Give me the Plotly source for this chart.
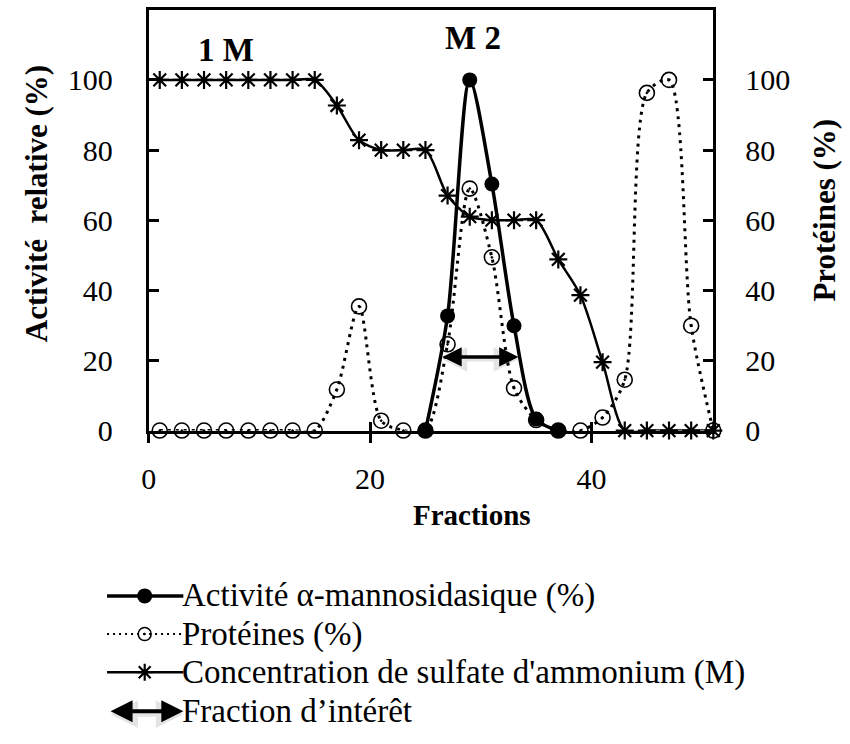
import plotly.graph_objects as go

# ---- data -------------------------------------------------------------
fractions = [1, 3, 5, 7, 9, 11, 13, 15, 17, 19, 21, 23, 25,
             27, 29, 31, 33, 35, 37, 39, 41, 43, 45, 47, 49, 51]

# ammonium sulfate concentration, relative (%)
sulfate = [100, 100, 100, 100, 100, 100, 100, 100, 92.7, 82.8, 80, 80, 80,
           67, 61, 60, 60, 60, 48.8, 38.6, 19.5, 0, 0, 0, 0, 0]

# proteins (%)
proteins = [0, 0, 0, 0, 0, 0, 0, 0, 11.7, 35.4, 2.8, 0, 0,
            24.6, 69, 49.4, 12.1, 3, 0, 0, 3.7, 14.5, 96.3, 100, 29.9, 0]

# alpha-mannosidase activity (%)
activity_fractions = [25, 27, 29, 31, 33, 35, 37]
activity = [0, 32.7, 100, 70.3, 29.9, 3.3, 0]

# pooled fractions of interest and the level of the marker arrow
interest_range = [26.4, 33.4]
interest_level = 21

y_ticks = [0, 20, 40, 60, 80, 100]
x_ticks = [0, 20, 40]

legend_labels = [
    "Activité \u03b1-mannosidasique (%)",
    "Protéines (%)",
    "Concentration de sulfate d'ammonium (M)",
    "Fraction d\u2019intérêt",
]

# ---- layout geometry (pixels of an 850 x 744 page) -------------------
W, H = 850, 744
PL, PR, PT, PB = 142, 712, 10, 440
FONT = "Liberation Serif"
BLACK = "black"
CLEAR = "rgba(0,0,0,0)"
SHADOW = "rgba(0,0,0,0.10)"


def fx(px):
    return px / W


def fy(py):
    return 1 - py / H


fig = go.Figure()

# sulfate concentration
fig.add_trace(go.Scatter(
    x=fractions, y=sulfate, mode="lines+markers",
    line=dict(color=BLACK, width=2.5, shape="spline", smoothing=0.8),
    marker=dict(symbol="asterisk-open", size=15, color=BLACK,
                line=dict(color=BLACK, width=2.2)),
    cliponaxis=False, showlegend=False,
))

# proteins on the right axis
fig.add_trace(go.Scatter(
    x=fractions, y=proteins, mode="lines+markers", yaxis="y2",
    line=dict(color=BLACK, width=3, dash="3px,5px", shape="spline", smoothing=0.8),
    marker=dict(symbol="circle-open-dot", size=15, color=BLACK,
                line=dict(color=BLACK, width=1.6)),
    cliponaxis=False, showlegend=False,
))

# enzyme activity
fig.add_trace(go.Scatter(
    x=activity_fractions, y=activity, mode="lines+markers",
    line=dict(color=BLACK, width=3.5, shape="spline", smoothing=0.8),
    marker=dict(symbol="circle", size=15, color=BLACK),
    cliponaxis=False, showlegend=False,
))

# inner half of the crossing x ticks
fig.add_trace(go.Scatter(x=[], y=[], xaxis="x2", yaxis="y", showlegend=False))

# ---- hand-built legend drawn on a page-sized helper axis -------------
leg_rows = [609, 648, 687, 727]
leg_x0, leg_x1, leg_mid, leg_text = 100, 177, 138, 174

fig.add_trace(go.Scatter(
    x=[leg_x0, leg_x1], y=[leg_rows[0]] * 2, mode="lines", xaxis="x4", yaxis="y4",
    line=dict(color=BLACK, width=3.5), showlegend=False, hoverinfo="skip"))
fig.add_trace(go.Scatter(
    x=[leg_mid], y=[leg_rows[0]], mode="markers", xaxis="x4", yaxis="y4",
    marker=dict(symbol="circle", size=15, color=BLACK), showlegend=False, hoverinfo="skip"))
fig.add_trace(go.Scatter(
    x=[leg_x0, leg_x1], y=[leg_rows[1]] * 2, mode="lines", xaxis="x4", yaxis="y4",
    line=dict(color=BLACK, width=2, dash="2px,4px"), showlegend=False, hoverinfo="skip"))
fig.add_trace(go.Scatter(
    x=[leg_mid], y=[leg_rows[1]], mode="markers", xaxis="x4", yaxis="y4",
    marker=dict(symbol="circle-open-dot", size=13, color=BLACK,
                line=dict(color=BLACK, width=1.5)),
    showlegend=False, hoverinfo="skip"))
fig.add_trace(go.Scatter(
    x=[leg_x0, leg_x1], y=[leg_rows[2]] * 2, mode="lines", xaxis="x4", yaxis="y4",
    line=dict(color=BLACK, width=2.5), showlegend=False, hoverinfo="skip"))
fig.add_trace(go.Scatter(
    x=[leg_mid], y=[leg_rows[2]], mode="markers", xaxis="x4", yaxis="y4",
    marker=dict(symbol="asterisk-open", size=14, color=BLACK,
                line=dict(color=BLACK, width=2.2)),
    showlegend=False, hoverinfo="skip"))

annotations = []
for row, label in zip(leg_rows, legend_labels):
    annotations.append(dict(
        x=leg_text, y=row, xref="x4", yref="y4", text=label, showarrow=False,
        xanchor="left", yanchor="middle", font=dict(family=FONT, size=33, color=BLACK)))

# legend arrow (faint shadow first, then the arrow)
for dy, col, w in [(3, SHADOW, 5), (0, BLACK, 4)]:
    annotations.append(dict(
        x=leg_x1, y=leg_rows[3] + dy, ax=leg_x0 + 2, ay=leg_rows[3] + dy,
        xref="x4", yref="y4", axref="x4", ayref="y4", text="",
        showarrow=True, arrowside="end+start", arrowhead=2, arrowsize=1.1,
        arrowwidth=w, arrowcolor=col))

# arrow marking the pooled fractions
for dy, col, w in [(-0.7, SHADOW, 4.5), (0, BLACK, 3.5)]:
    annotations.append(dict(
        x=interest_range[1], y=interest_level + dy,
        ax=interest_range[0], ay=interest_level + dy,
        xref="x", yref="y", axref="x", ayref="y", text="",
        showarrow=True, arrowside="end+start", arrowhead=2, arrowsize=1.1,
        arrowwidth=w, arrowcolor=col))

# step labels
annotations.append(dict(x=7.0, y=108.6, xref="x", yref="y", text="<b>1 M</b>",
                        xanchor="center", yanchor="middle",
                        showarrow=False, font=dict(family=FONT, size=33, color=BLACK)))
annotations.append(dict(x=29.3, y=111.9, xref="x", yref="y", text="<b>M 2</b>",
                        xanchor="center", yanchor="middle",
                        showarrow=False, font=dict(family=FONT, size=33, color=BLACK)))

# axis titles
annotations.append(dict(x=fx(29), y=fy(208), xref="paper", yref="paper",
                        xanchor="center", yanchor="middle",
                        text="<b>Activité\u00a0 relative (%)</b>", textangle=-90,
                        showarrow=False, font=dict(family=FONT, size=31, color=BLACK)))
annotations.append(dict(x=fx(824), y=fy(215), xref="paper", yref="paper",
                        xanchor="center", yanchor="middle",
                        text="<b>Protéines (%)</b>", textangle=-90,
                        showarrow=False, font=dict(family=FONT, size=31, color=BLACK)))
annotations.append(dict(x=fx(468), y=fy(526), xref="paper", yref="paper",
                        xanchor="center", yanchor="middle",
                        text="<b>Fractions</b>",
                        showarrow=False, font=dict(family=FONT, size=29, color=BLACK)))

tickfont = dict(family=FONT, size=30, color=BLACK)
xdom = [fx(PL), fx(PR)]
ydom = [fy(PB), fy(PT)]

fig.update_layout(
    width=W, height=H,
    margin=dict(l=0, r=0, t=0, b=0),
    paper_bgcolor="white", plot_bgcolor=CLEAR,
    showlegend=False,
    annotations=annotations,
    xaxis=dict(domain=xdom, range=[0, 51], tickvals=x_ticks, ticks="outside",
               ticklen=9, tickwidth=2.5, tickcolor=BLACK, showline=True,
               linewidth=3, linecolor=BLACK, mirror=True, showgrid=False,
               zeroline=False, tickfont=tickfont, ticklabelstandoff=10,
               anchor="y"),
    xaxis2=dict(domain=xdom, range=[0, 51], tickvals=x_ticks, ticks="inside",
                ticklen=9, tickwidth=2.5, tickcolor=BLACK, showticklabels=False,
                showline=False, showgrid=False, zeroline=False,
                overlaying="x", anchor="y"),
    yaxis=dict(domain=ydom, range=[0, 120], tickvals=y_ticks, ticks="inside",
               ticklen=10, tickwidth=2.5, tickcolor=BLACK, showline=True,
               linewidth=3, linecolor=BLACK, showgrid=False, zeroline=False,
               tickfont=tickfont, ticklabelstandoff=27, anchor="x"),
    yaxis2=dict(domain=ydom, range=[0, 120], tickvals=y_ticks, ticks="inside",
                ticklen=10, tickwidth=2.5, tickcolor=BLACK, showline=True,
                linewidth=3, linecolor=BLACK, showgrid=False, zeroline=False,
                tickfont=tickfont, ticklabelstandoff=23, side="right",
                overlaying="y", anchor="x"),
    xaxis4=dict(domain=[0, 1], range=[0, W], visible=False, anchor="y4"),
    yaxis4=dict(domain=[0, 1], range=[H, 0], visible=False, anchor="x4"),
)

fig.write_html("out.html")
